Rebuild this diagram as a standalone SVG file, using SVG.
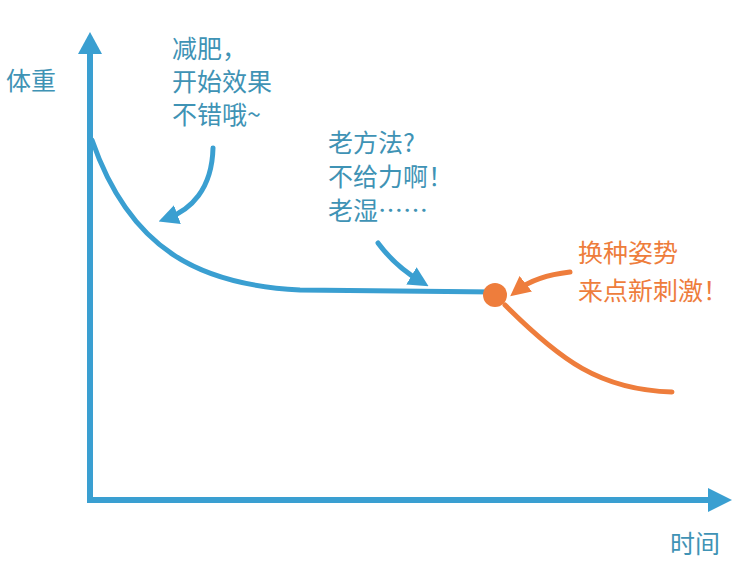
<svg xmlns="http://www.w3.org/2000/svg" width="750" height="563" viewBox="0 0 750 563">
<style>
.t{font-family:"Noto Sans CJK SC","Noto Sans",sans-serif;font-size:25px;fill:#3f93b5}
.o{font-family:"Noto Sans CJK SC","Noto Sans",sans-serif;font-size:25px;fill:#ee7d3c}
.ax{stroke:#3a9fd1;stroke-width:6;fill:none}
.b{stroke:#3a9fd1;stroke-width:5;fill:none;stroke-linecap:round}
.or{stroke:#ee7d3c;stroke-width:5;fill:none;stroke-linecap:round}
</style>
<defs>
<marker id="ab" viewBox="0 0 10 10" refX="5" refY="5" markerWidth="4" markerHeight="4" orient="auto"><path d="M0,0L10,5L0,10z" fill="#3a9fd1"/></marker>
<marker id="ao" viewBox="0 0 10 10" refX="5" refY="5" markerWidth="4" markerHeight="4" orient="auto"><path d="M0,0L10,5L0,10z" fill="#ee7d3c"/></marker>
</defs>
<rect width="750" height="563" fill="#fff"/>
<g id="axes">
<path class="ax" d="M90,503V50"/>
<path d="M78,54L90,32L102,54z" fill="#3a9fd1"/>
<path class="ax" d="M87,500H712"/>
<path d="M708,488L732,500L708,512z" fill="#3a9fd1"/>
</g>
<g id="curve">
<path class="b" d="M92,140C130,250 200,285 300,290L495,292"/>
<path class="or" d="M505,305C560,360 600,390 672,392"/>
<circle cx="495" cy="295" r="12" fill="#ee7d3c"/>
</g>
<g id="connectors">
<path class="b" stroke-width="6" d="M213,148C212,190 190,210 168,218" marker-end="url(#ab)"/>
<path class="b" stroke-width="6" d="M378,243C392,262 405,272 420,281" marker-end="url(#ab)"/>
<path class="or" stroke-width="6" d="M570,272C545,275 528,282 518,290" marker-end="url(#ao)"/>
</g>
<g id="labels">
<text class="t" x="6" y="90" font-size="32">体重</text>
<text class="t" x="670" y="553" font-size="32">时间</text>
<text class="t" x="172" y="58">减肥，</text>
<text class="t" x="172" y="91">开始效果</text>
<text class="t" x="172" y="124">不错哦~</text>
<text class="t" x="328" y="152">老方法?</text>
<text class="t" x="328" y="186">不给力啊！</text>
<text class="t" x="328" y="220">老湿……</text>
<text class="o" x="578" y="262">换种姿势</text>
<text class="o" x="578" y="300">来点新刺激！</text>
</g>
</svg>
